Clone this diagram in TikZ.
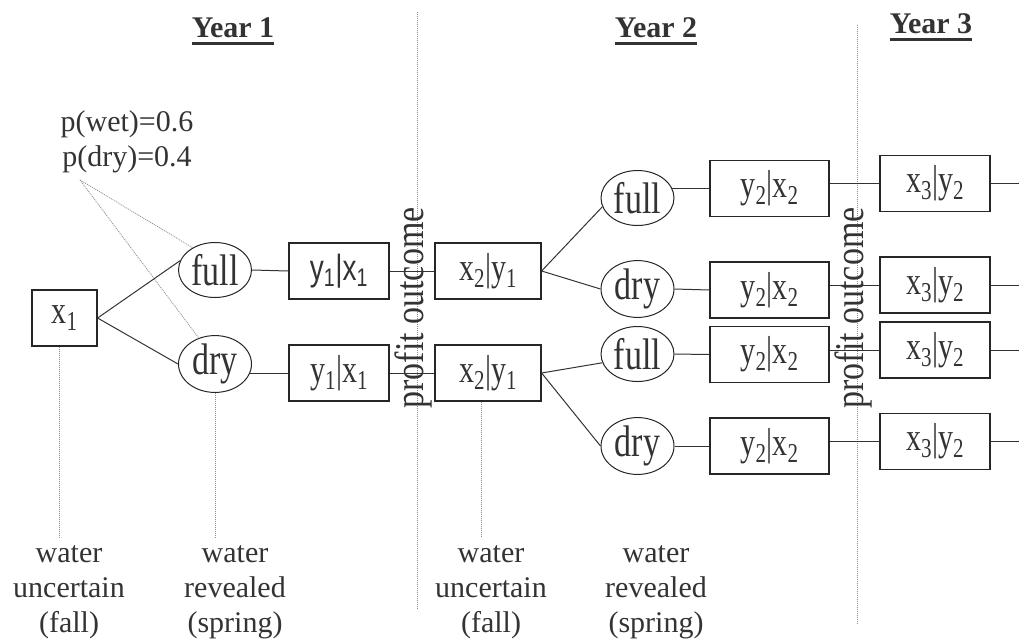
\documentclass[tikz,border=0pt]{standalone}
\usepackage{graphicx}
\usepackage{fontspec}
\setmainfont{Liberation Serif}
\newfontfamily\arialfont{Liberation Sans}
\usetikzlibrary{shapes.geometric}
\newcommand{\sbs}[1]{\textsubscript{#1}}
\newcommand{\tallt}[1]{\scalebox{1}[1.3]{#1}}

\begin{document}
\begin{tikzpicture}[x=1pt,y=-1pt,
  txt/.style={text=black!80, font=\fontsize{30}{35}\selectfont, inner sep=0pt},
  decbox/.style={draw=black!85, line width=1.2pt, minimum height=56pt, inner sep=0pt,
    text=black!80, font=\fontsize{30}{35}\selectfont},
  chance/.style={draw=black!85, line width=1pt, ellipse, minimum width=73pt, minimum height=55pt,
    inner sep=0pt, text=black!80, font=\fontsize{34}{40}\selectfont},
  link/.style={draw=black!80, line width=1pt},
  guide/.style={draw=black!45, line width=0.8pt, dash pattern=on 1pt off 1pt},
  title/.style={text=black!80, font=\fontsize{30}{35}\selectfont\bfseries, inner sep=0pt, anchor=base},
  side/.style={txt, rotate=90, yscale=1.2, font=\fontsize{34}{40}\selectfont},
]
\useasboundingbox (0,0) rectangle (1019,641);
\node[title] (t1) at (233,37) {Year 1};
\node[title] (t2) at (656,37) {Year 2};
\node[title] (t3) at (931,33) {Year 3};
\foreach \t in {t1,t2,t3}
  \draw[black!80, line width=3pt] ([yshift=-6pt]\t.base west) -- ([yshift=-6pt]\t.base east);
\draw[guide] (417,12) -- (417,610);
\draw[guide] (857,25) -- (857,625);
\coordinate (lo) at (0,537);
\node[decbox, minimum width=65pt] (x1) at (64.5,318) {\tallt{x\sbs{1}}};
\node[chance] (f1) at (215,270) {\tallt{full}};
\node[chance] (d1) at (215,364) {\tallt{dry}};
\node[decbox, minimum width=100pt, font=\arialfont\fontsize{28}{32}\selectfont] (y1a) at (339,271) {\tallt{y\sbs{1}|x\sbs{1}}};
\node[decbox, minimum width=100pt] (y1b) at (339,373) {\tallt{y\sbs{1}|x\sbs{1}}};
\node[decbox, minimum width=106pt] (x2a) at (488,271) {\tallt{x\sbs{2}|y\sbs{1}}};
\node[decbox, minimum width=106pt] (x2b) at (488,373) {\tallt{x\sbs{2}|y\sbs{1}}};
\foreach \i/\ye/\yb/\yc/\lab in {1/198/188.5/183.5/full, 2/289/290/285/dry, 3/354/354.5/350/full, 4/446/446/441.5/dry} {
  \node[chance] (e\i) at (637.5,\ye) {\tallt{\lab}};
  \node[decbox, minimum width=119pt] (y2\i) at (769.5,\yb) {\tallt{y\sbs{2}|x\sbs{2}}};
  \node[decbox, minimum width=110pt] (x3\i) at (935,\yc) {\tallt{x\sbs{3}|y\sbs{2}}};
  \coordinate (end\i) at (1019,\yc);
}
\node[side] (po1) at (413,308) {profit outcome};
\node[side] (po2) at (853,308) {profit outcome};
\draw[link] (x1.east) -- (f1.165);
\draw[link] (x1.east) -- (d1.west);
\draw[link] (f1.east) -- (y1a.west);
\draw[link] (d1.-16) -- (d1.-16 -| y1b.west);
\draw[link] (y1a.east) -- (x2a.west);
\draw[link] (y1b.east) -- (x2b.west);
\draw[link] (x2a.east) -- (e1.194);
\draw[link] (x2a.east) -- (e2.west);
\draw[link] (x2b.east) -- (e3.194);
\draw[link] (x2b.east) -- (e4.west);
\draw[link] (e1.16) -- (e1.16 -| y21.west);
\foreach \i in {2,3,4}
  \draw[link] (e\i.east) -- (y2\i.west);
\foreach \i in {1,...,4} {
  \draw[link] (x3\i.west) -- (x3\i.west -| y2\i.east);
  \draw[link] (x3\i.east) -- (end\i);
}
\node[txt, align=center, anchor=base] (pr) at (127,166) {p(wet)=0.6\\p(dry)=0.4};
\coordinate (pw) at (80,180);
\draw[guide] (pw) -- (f1.135);
\draw[guide] (pw) -- (d1.122);
\draw[guide] ([xshift=-5pt]x1.south) -- ([xshift=-5pt]x1.south |- lo);
\draw[guide] (d1.south) -- (d1.south |- lo);
\draw[guide] ([xshift=-7pt]x2b.south) -- ([xshift=-7pt]x2b.south |- lo);
\node[txt, align=center, anchor=base] (w1) at (69,632) {water\\uncertain\\(fall)};
\node[txt, align=center, anchor=base] (w2) at (235,632) {water\\revealed\\(spring)};
\node[txt, align=center, anchor=base] (w3) at (491,632) {water\\uncertain\\(fall)};
\node[txt, align=center, anchor=base] (w4) at (656,632) {water\\revealed\\(spring)};
\end{tikzpicture}
\end{document}
